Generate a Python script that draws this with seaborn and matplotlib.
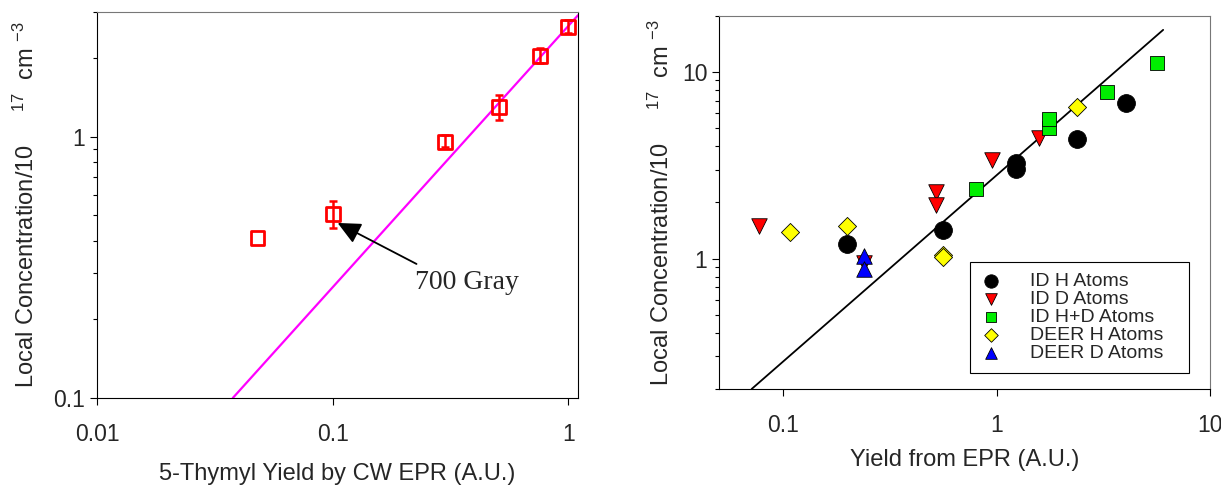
"""
local concentration vs EPR yield, two log-log panels
"""

import matplotlib

matplotlib.use("Agg")
import matplotlib.pyplot as plt
import matplotlib.ticker as mticker
import numpy as np
import seaborn as sns

########
# Data #
########

# left panel: 5-thymyl yield by CW EPR
cwYield = [0.048, 0.1, 0.3, 0.507, 0.757, 1.0]
cwConc = [0.411, 0.508, 0.955, 1.30, 2.04, 2.64]
cwErrLow = [np.nan, 0.06, 0.045, 0.14, 0.12, 0.14]
cwErrHigh = [np.nan, 0.06, 0.065, 0.15, 0.15, 0.15]
cwFitX = [0.0377, 1.1]
cwFitY = [0.1, 2.92]

# right panel: yield from EPR, one list pair per series
idHX = [0.198, 0.558, 1.23, 1.23, 2.37, 4.04]
idHY = [1.20, 1.43, 3.24, 3.01, 4.37, 6.78]
idDX = [0.0769, 0.238, 0.519, 0.519, 0.95, 1.58]
idDY = [1.50, 0.95, 2.27, 1.94, 3.38, 4.41]
idHDX = [0.796, 1.75, 1.75, 3.30, 5.63]
idHDY = [2.36, 4.99, 5.57, 7.76, 11.2]
deerHX = [0.107, 0.198, 0.558, 0.562, 2.37]
deerHY = [1.38, 1.50, 1.04, 1.02, 6.45]
deerDX = [0.238, 0.238]
deerDY = [1.03, 0.88]
eprFitX = [0.071, 6.03]
eprFitY = [0.2, 16.8]

#########
# Style #
#########

sns.set_theme(style="ticks")
plt.rcParams["font.family"] = ["Liberation Sans", "DejaVu Sans"]
plt.rcParams["mathtext.fontset"] = "custom"
plt.rcParams["mathtext.rm"] = "Liberation Sans"
plt.rcParams["mathtext.it"] = "Liberation Sans:italic"
plt.rcParams["mathtext.default"] = "regular"

yLabel = "Local Concentration/10     $^{17}$  cm $^{-3}$"


def style_axes(ax, grey_spines):
    ax.set_xscale("log")
    ax.set_yscale("log")
    ax.xaxis.set_minor_locator(mticker.NullLocator())
    ax.xaxis.set_major_formatter(mticker.FuncFormatter(lambda v, p: f"{v:g}"))
    ax.yaxis.set_major_formatter(mticker.FuncFormatter(lambda v, p: f"{v:g}"))
    ax.yaxis.set_minor_formatter(mticker.NullFormatter())
    ax.tick_params(axis="both", which="major", direction="out", length=5,
                   width=0.8, labelsize=16.5, color="black")
    ax.tick_params(axis="y", which="minor", direction="out", length=3,
                   width=0.8, color="black")
    ax.tick_params(axis="x", which="major", pad=13)
    ax.tick_params(axis="y", which="major", pad=3.5)
    for side in ("left", "bottom", "top", "right"):
        ax.spines[side].set_linewidth(0.8)
        ax.spines[side].set_color("black")
    for side in grey_spines:
        ax.spines[side].set_color("#777777")


#########
# Plots #
#########

fig = plt.figure(figsize=(12.21, 4.86), dpi=100)
axL = fig.add_axes([0.0794, 0.181, 0.394, 0.794])
axR = fig.add_axes([0.589, 0.1996, 0.402, 0.768])

# left panel
style_axes(axL, ["top"])
sns.lineplot(x=cwFitX, y=cwFitY, ax=axL, color="#ff00ff", linewidth=1.6,
             estimator=None, sort=False)
axL.errorbar(cwYield, cwConc, yerr=[cwErrLow, cwErrHigh], fmt="none",
             ecolor="red", elinewidth=1.8, capsize=3, capthick=1.8, zorder=3)
sns.scatterplot(x=cwYield, y=cwConc, ax=axL, marker="s", s=100,
                facecolor="none", edgecolor="red", linewidth=2, zorder=4)
axL.annotate("", xy=(0.105, 0.468), xytext=(0.227, 0.326),
             arrowprops=dict(arrowstyle="-|>,head_length=0.7,head_width=0.33",
                             mutation_scale=20, color="black", lw=1.3,
                             shrinkA=0, shrinkB=0))
axL.text(0.224, 0.276, "700 Gray", family=["Liberation Serif", "DejaVu Serif"],
         fontsize=20, ha="left", va="center")
axL.set_xlim(0.01, 1.1)
axL.set_ylim(0.1, 3.0)
axL.set_xlabel("5-Thymyl Yield by CW EPR (A.U.)", fontsize=17, labelpad=12)
axL.set_ylabel(yLabel, fontsize=17, labelpad=10)

# right panel
style_axes(axR, ["top", "right"])
sns.lineplot(x=eprFitX, y=eprFitY, ax=axR, color="black", linewidth=1.3,
             estimator=None, sort=False)
series = [
    ("ID H Atoms", idHX, idHY, "o", "black", 165),
    ("ID D Atoms", idDX, idDY, "v", "red", 125),
    ("ID H+D Atoms", idHDX, idHDY, "s", "#00ee00", 100),
    ("DEER H Atoms", deerHX, deerHY, "D", "yellow", 85),
    ("DEER D Atoms", deerDX, deerDY, "^", "blue", 125),
]
for name, xs, ys, mk, col, size in series:
    sns.scatterplot(x=xs, y=ys, ax=axR, marker=mk, s=size, color=col,
                    edgecolor="black", linewidth=0.6, label=name, zorder=3)
axR.set_xlim(0.05, 10)
axR.set_ylim(0.2, 20)
axR.set_xlabel("Yield from EPR (A.U.)", fontsize=17, labelpad=9)
axR.set_ylabel(yLabel, fontsize=17, labelpad=6)
leg = axR.legend(loc="upper left", bbox_to_anchor=(0.512, 0.034, 0.445, 0.306),
                 mode="expand", borderaxespad=0, fontsize=14, markerscale=0.75,
                 handlelength=1.0, handletextpad=1.5, borderpad=0.55,
                 labelspacing=0.02, fancybox=False, framealpha=1)
leg.get_frame().set_edgecolor("black")
leg.get_frame().set_linewidth(0.8)

fig.savefig("out.png", dpi=100)
